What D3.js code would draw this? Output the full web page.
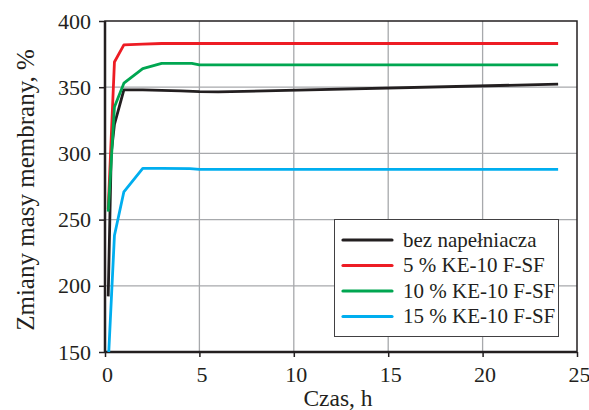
<!DOCTYPE html>
<html>
<head>
<meta charset="utf-8">
<script src="https://cdn.jsdelivr.net/npm/d3@7"></script>
<style>body { margin: 0; background: #fff; }</style>
</head>
<body>
<div id="chart"></div>
<script>
// data
var seriesNames = ['bez napełniacza', '5 % KE-10 F-SF', '10 % KE-10 F-SF', '15 % KE-10 F-SF'];
var seriesColors = ['#231f20', '#ed1c24', '#00a651', '#00aeef'];
var czasBez = [0.17, 0.33, 0.5, 1, 2, 3, 4, 5, 6, 24];
var bez = [192, 300, 322, 348, 348, 347.6, 347.2, 346.6, 346.4, 352.3];
var czas5 = [0.17, 0.5, 1, 2, 3, 24];
var ke5 = [258, 369, 382, 382.6, 383, 383];
var czas10 = [0.17, 0.5, 1, 2, 3, 4.6, 5, 24];
var ke10 = [256, 335, 353, 364, 368, 368, 366.8, 366.8];
var czas15 = [0.2, 0.5, 1, 2, 3, 4.5, 5, 24];
var ke15 = [150, 238, 271, 288.7, 288.7, 288.5, 288, 288];
var xTicks = [0, 5, 10, 15, 20, 25];
var yTicks = [150, 200, 250, 300, 350, 400];

var allSeries = [
    {x: czasBez, y: bez},
    {x: czas5, y: ke5},
    {x: czas10, y: ke10},
    {x: czas15, y: ke15}
];

var serif = "'Liberation Serif'";
var ink = '#231f20';
var width = 589, height = 410;
var margin = {left: 105, right: 12, top: 21, bottom: 58};

var svg = d3.select('#chart').append('svg')
    .attr('width', width)
    .attr('height', height);

var x = d3.scaleLinear().domain([0, 25]).range([margin.left, width - margin.right]);
var y = d3.scaleLinear().domain([150, 400]).range([height - margin.bottom, margin.top]);

// grid
svg.append('g').selectAll('line.v')
    .data(xTicks.slice(1, -1))
    .enter().append('line')
    .attr('x1', function(d){ return x(d); })
    .attr('x2', function(d){ return x(d); })
    .attr('y1', y(150)).attr('y2', y(400))
    .attr('stroke', '#a7a9ac').attr('stroke-width', 1.3);
svg.append('g').selectAll('line.h')
    .data(yTicks.slice(1, -1))
    .enter().append('line')
    .attr('x1', x(0)).attr('x2', x(25))
    .attr('y1', function(d){ return y(d); })
    .attr('y2', function(d){ return y(d); })
    .attr('stroke', '#a7a9ac').attr('stroke-width', 1.3);

// axes
var xAxis = svg.append('g')
    .attr('transform', 'translate(0,' + y(150) + ')')
    .call(d3.axisBottom(x).tickValues(xTicks).tickSize(5).tickPadding(9));
var yAxis = svg.append('g')
    .attr('transform', 'translate(' + x(0) + ',0)')
    .call(d3.axisLeft(y).tickValues(yTicks).tickSize(6).tickPadding(8));
[xAxis, yAxis].forEach(function(a){
    a.select('.domain').remove();
    a.selectAll('line').attr('stroke', ink).attr('stroke-width', 1.5);
    a.selectAll('text')
        .style('font-family', serif)
        .style('font-size', '22px')
        .style('fill', ink);
});
xAxis.selectAll('text').attr('dx', 2);

// frame
svg.append('rect')
    .attr('x', x(0)).attr('y', y(400))
    .attr('width', x(25) - x(0)).attr('height', y(150) - y(400))
    .attr('fill', 'none').attr('stroke', ink).attr('stroke-width', 1.5);
svg.append('line')
    .attr('x1', x(0)).attr('x2', x(0)).attr('y1', y(400)).attr('y2', y(150))
    .attr('stroke', ink).attr('stroke-width', 2.5);
svg.append('line')
    .attr('x1', x(0)).attr('x2', x(25)).attr('y1', y(150)).attr('y2', y(150))
    .attr('stroke', ink).attr('stroke-width', 2.5);

// lines
var line = d3.line()
    .x(function(d){ return x(d[0]); })
    .y(function(d){ return y(d[1]); });
allSeries.forEach(function(s, i){
    svg.append('path')
        .datum(d3.zip(s.x, s.y))
        .attr('d', line)
        .attr('fill', 'none')
        .attr('stroke', seriesColors[i])
        .attr('stroke-width', 2.8)
        .attr('stroke-linejoin', 'round');
});

// legend
var lg = svg.append('g');
lg.append('rect')
    .attr('x', 334.5).attr('y', 219.5).attr('width', 224).attr('height', 117)
    .attr('fill', '#fff').attr('stroke', '#414042').attr('stroke-width', 1);
seriesNames.forEach(function(name, i){
    var ly = 240 + i * 25.5;
    lg.append('line')
        .attr('x1', 343).attr('x2', 392).attr('y1', ly).attr('y2', ly)
        .attr('stroke', seriesColors[i]).attr('stroke-width', 3.2)
        .attr('stroke-linecap', 'round');
    lg.append('text')
        .attr('x', 403).attr('y', ly + 6.5)
        .style('font-family', serif)
        .style('font-size', '21px')
        .style('fill', ink)
        .text(name);
});

// axis titles
svg.append('text')
    .attr('x', 338).attr('y', 406)
    .attr('text-anchor', 'middle')
    .style('font-family', serif)
    .style('font-size', '23.5px')
    .style('fill', ink)
    .text('Czas, h');
svg.append('text')
    .attr('transform', 'translate(34,190) rotate(-90)')
    .attr('text-anchor', 'middle')
    .style('font-family', serif)
    .style('font-size', '25px')
    .style('fill', ink)
    .text('Zmiany masy membrany, %');
</script>
</body>
</html>
